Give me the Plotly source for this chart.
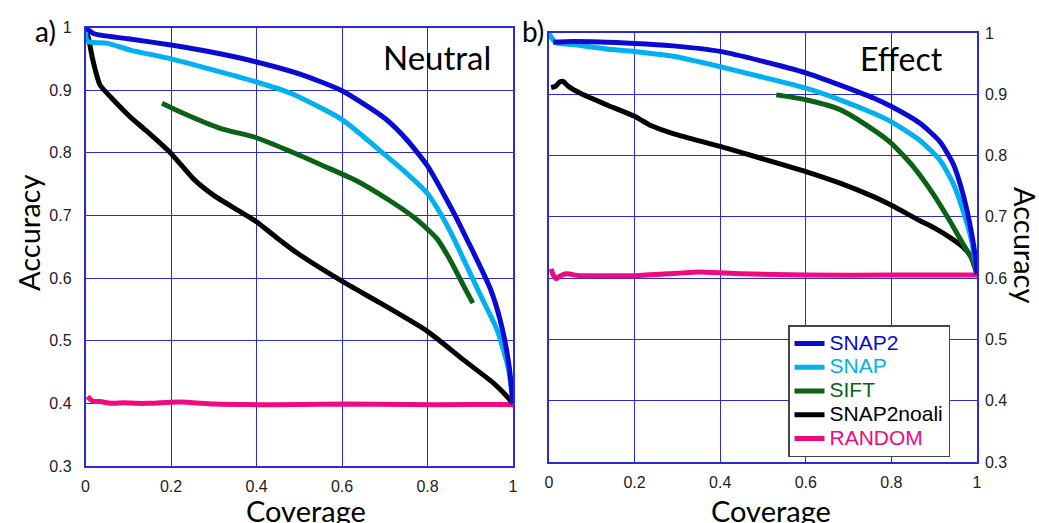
import plotly.graph_objects as go

W, H = 1039, 523

# ---------------- Data: Neutral panel (a) ----------------
snap2_n_x = [0, 0.02, 0.1, 0.2, 0.3, 0.4, 0.5, 0.6, 0.7, 0.75, 0.8, 0.845, 0.869, 0.892, 0.908, 0.947, 0.97, 0.99, 1.0]
snap2_n_y = [1.0, 0.99, 0.982, 0.972, 0.96, 0.945, 0.926, 0.899, 0.855, 0.822, 0.779, 0.725, 0.694, 0.662, 0.640, 0.583, 0.533, 0.464, 0.40]

snap_n_x = [0, 0.005, 0.05, 0.105, 0.2, 0.3, 0.4, 0.48, 0.6, 0.7, 0.75, 0.8, 0.833, 0.855, 0.885, 0.923, 0.963, 0.99, 1.0]
snap_n_y = [0.995, 0.978, 0.975, 0.964, 0.95, 0.932, 0.913, 0.895, 0.853, 0.797, 0.768, 0.735, 0.70, 0.672, 0.629, 0.574, 0.517, 0.453, 0.40]

sift_n_x = [0.179, 0.222, 0.315, 0.4, 0.48, 0.557, 0.635, 0.713, 0.768, 0.8, 0.822, 0.853, 0.885, 0.906]
sift_n_y = [0.879, 0.865, 0.839, 0.824, 0.802, 0.779, 0.755, 0.723, 0.697, 0.678, 0.663, 0.629, 0.587, 0.56]

noali_n_x = [0, 0.008, 0.015, 0.023, 0.034, 0.066, 0.105, 0.144, 0.2, 0.253, 0.3, 0.362, 0.4, 0.448, 0.495, 0.6, 0.69, 0.8, 0.885, 0.955, 0.986, 1.0]
noali_n_y = [1.0, 0.98, 0.955, 0.932, 0.908, 0.884, 0.857, 0.834, 0.799, 0.758, 0.732, 0.706, 0.69, 0.664, 0.64, 0.595, 0.56, 0.515, 0.469, 0.432, 0.411, 0.40]

random_n_x = [0.005, 0.012, 0.019, 0.035, 0.05, 0.066, 0.09, 0.12, 0.144, 0.22, 0.3, 0.378, 0.5, 0.61, 0.75, 0.9, 1.0]
random_n_y = [0.411, 0.406, 0.403, 0.403, 0.401, 0.400, 0.401, 0.400, 0.400, 0.402, 0.399, 0.398, 0.398, 0.399, 0.398, 0.398, 0.398]

# ---------------- Data: Effect panel (b) ----------------
snap2_e_x = [0.01, 0.056, 0.2, 0.29, 0.4, 0.493, 0.6, 0.68, 0.758, 0.8, 0.866, 0.913, 0.944, 0.967, 0.983, 0.994, 1.0]
snap2_e_y = [0.985, 0.986, 0.983, 0.979, 0.97, 0.955, 0.935, 0.915, 0.894, 0.88, 0.853, 0.823, 0.787, 0.738, 0.689, 0.645, 0.607]

snap_e_x = [0.0, 0.005, 0.017, 0.056, 0.134, 0.2, 0.29, 0.4, 0.493, 0.6, 0.68, 0.758, 0.8, 0.866, 0.913, 0.944, 0.967, 0.987, 1.0]
snap_e_y = [1.0, 0.993, 0.984, 0.981, 0.974, 0.97, 0.962, 0.945, 0.929, 0.91, 0.891, 0.869, 0.855, 0.825, 0.793, 0.755, 0.711, 0.662, 0.607]

sift_e_x = [0.531, 0.6, 0.68, 0.758, 0.8, 0.851, 0.897, 0.936, 0.967, 0.99, 1.0]
sift_e_y = [0.899, 0.891, 0.875, 0.842, 0.82, 0.782, 0.738, 0.694, 0.656, 0.629, 0.607]

noali_e_x = [0.005, 0.015, 0.025, 0.033, 0.045, 0.072, 0.134, 0.2, 0.235, 0.29, 0.4, 0.493, 0.6, 0.68, 0.758, 0.8, 0.866, 0.9, 0.94, 0.967, 0.985, 1.0]
noali_e_y = [0.911, 0.913, 0.92, 0.921, 0.913, 0.902, 0.883, 0.864, 0.85, 0.836, 0.815, 0.796, 0.774, 0.755, 0.733, 0.719, 0.694, 0.682, 0.665, 0.651, 0.636, 0.607]

random_e_x = [0.005, 0.01, 0.017, 0.025, 0.04, 0.07, 0.1, 0.2, 0.3, 0.352, 0.45, 0.6, 0.8, 1.0]
random_e_y = [0.615, 0.605, 0.599, 0.603, 0.607, 0.604, 0.604, 0.604, 0.608, 0.61, 0.607, 0.605, 0.605, 0.605]

series_names = ["SNAP2", "SNAP", "SIFT", "SNAP2noali", "RANDOM"]
series_colors = ["#0a0ad2", "#00b0f0", "#0b6116", "#000000", "#ee0a80"]

neutral = [(snap2_n_x, snap2_n_y), (snap_n_x, snap_n_y), (sift_n_x, sift_n_y),
           (noali_n_x, noali_n_y), (random_n_x, random_n_y)]
effect = [(snap2_e_x, snap2_e_y), (snap_e_x, snap_e_y), (sift_e_x, sift_e_y),
          (noali_e_x, noali_e_y), (random_e_x, random_e_y)]

x_ticks = [0, 0.2, 0.4, 0.6, 0.8, 1]
x_ticklabels = ["0", "0.2", "0.4", "0.6", "0.8", "1"]
y_ticks = [0.3, 0.4, 0.5, 0.6, 0.7, 0.8, 0.9, 1]
y_ticklabels = ["0.3", "0.4", "0.5", "0.6", "0.7", "0.8", "0.9", "1"]

GRID = "#2b2bd6"
TICKFONT = dict(family="Liberation Sans, Arial, sans-serif", size=16, color="#222222")
TITLEFONT = "Lato, Open Sans, sans-serif"

fig = go.Figure()

for panel, data, xa, ya in [(0, neutral, "x", "y"), (1, effect, "x2", "y2")]:
    for i in [4, 3, 2, 1, 0]:
        xs, ys = data[i]
        fig.add_trace(go.Scatter(
            x=xs, y=ys, mode="lines", xaxis=xa, yaxis=ya,
            line=dict(color=series_colors[i], width=5, shape="spline", smoothing=0.6),
            name='<span style="color:%s;font-size:21px">%s</span>' % (series_colors[i], series_names[i]),
            legendrank=i + 1,
            showlegend=(panel == 1),
            cliponaxis=False,
        ))

def px_x(p):
    return p / W

def px_y(p):
    return 1 - p / H

axis_common = dict(range=[0, 1], tickvals=x_ticks, ticktext=x_ticklabels,
                   showgrid=True, gridcolor=GRID, gridwidth=1.2,
                   showline=True, linecolor=GRID, linewidth=1.5, mirror=True,
                   zeroline=False, ticks="outside", ticklen=5, tickcolor="rgba(0,0,0,0)",
                   tickfont=TICKFONT, fixedrange=True, automargin=False)
yaxis_common = dict(range=[0.3, 1], tickvals=y_ticks, ticktext=y_ticklabels,
                    showgrid=True, gridcolor=GRID, gridwidth=1.2,
                    showline=True, linecolor=GRID, linewidth=1.5, mirror=True,
                    zeroline=False, tickfont=TICKFONT, fixedrange=True,
                    ticks="outside", tickcolor="rgba(0,0,0,0)", automargin=False)

fig.update_layout(
    width=W, height=H,
    margin=dict(l=0, r=0, t=0, b=0),
    paper_bgcolor="white", plot_bgcolor="white",
    xaxis=dict(domain=[px_x(85.5), px_x(513)], anchor="y", **axis_common),
    yaxis=dict(domain=[px_y(466), px_y(27.5)], anchor="x", side="left", ticklen=9, **yaxis_common),
    xaxis2=dict(domain=[px_x(549), px_x(977)], anchor="y2", **axis_common),
    yaxis2=dict(domain=[px_y(462), px_y(33)], anchor="x2", side="right", ticklen=3, **yaxis_common),
    legend=dict(x=px_x(788), y=px_y(325), xanchor="left", yanchor="top",
                bgcolor="white", bordercolor="#444444", borderwidth=1.5,
                font=dict(family="Liberation Sans, Arial, sans-serif", size=16),
                tracegroupgap=0, itemwidth=30),
    showlegend=True,
)

def ann(text, x, y, size, angle=0):
    fig.add_annotation(text=text, x=px_x(x), y=px_y(y), xref="paper", yref="paper",
                       showarrow=False, textangle=angle, xanchor="center", yanchor="middle",
                       font=dict(family=TITLEFONT, size=size, color="black"))

ann("Accuracy", 28, 233, 29, -90)
ann("Accuracy", 1026, 245, 29, 90)
ann("Coverage", 306, 510, 29)
ann("Coverage", 771, 510, 29)
ann("a)", 45, 31, 28)
ann("b)", 533, 31, 28)
ann("Neutral", 437, 57, 33)
ann("Effect", 901, 58, 32)

fig.write_html("out.html",
               config={"displayModeBar": False},
               post_script="document.body.style.margin='0';document.body.style.padding='0';"
                           "document.documentElement.style.overflow='hidden';")
